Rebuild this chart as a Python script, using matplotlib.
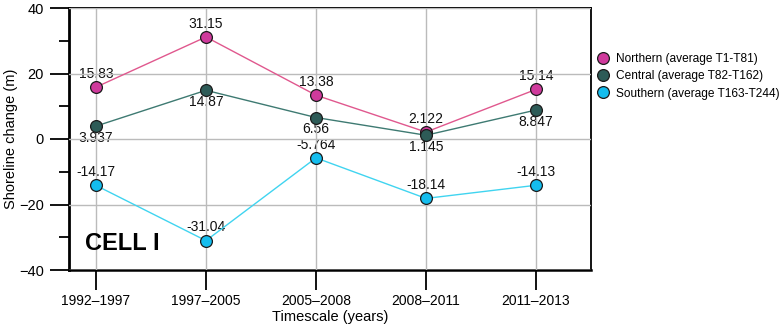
import numpy as np
import matplotlib
matplotlib.use('Agg')
import matplotlib.pyplot as plt
from matplotlib.lines import Line2D
from matplotlib.ticker import MultipleLocator

plt.rcParams['font.family'] = ['Liberation Sans', 'DejaVu Sans']

periods = ['1992\u20131997', '1997\u20132005', '2005\u20132008', '2008\u20132011', '2011\u20132013']
northern = [15.83, 31.15, 13.38, 2.122, 15.14]
central = [3.937, 14.87, 6.56, 1.145, 8.847]
southern = [-14.17, -31.04, -5.764, -18.14, -14.13]
northern_lbl = ['15.83', '31.15', '13.38', '2.122', '15.14']
central_lbl = ['3.937', '14.87', '6.56', '1.145', '8.847']
southern_lbl = ['-14.17', '-31.04', '-5.764', '-18.14', '-14.13']
names = ['Northern (average T1-T81)', 'Central (average T82-T162)',
         'Southern (average T163-T244)']

fig = plt.figure(figsize=(7.84, 3.27), dpi=100)
ax = fig.add_axes([69/784, 1-270/327, (591-69)/784, (270-8)/327])

x = np.arange(len(periods))
series = [
  (northern, northern_lbl, '#e0588e', '#cf3a9c', 9.5),
  (central, central_lbl, '#3e7a72', '#2d5b57', -8.5),
  (southern, southern_lbl, '#40d4f0', '#14bdee', 9.5),
]

for vals, lbls, lc, mc, off in series:
  ax.plot(x, vals, color=lc, lw=1, zorder=3)
  ax.plot(x, vals, ls='none', marker='o', ms=8.5, mfc=mc, mec='#1a1a1a', mew=0.9, zorder=4)
  for xi, v, s in zip(x, vals, lbls):
    ax.annotate(s, (xi, v), xytext=(0, off), textcoords='offset points',
                ha='center', va='center', fontsize=10, color='#111111', zorder=1)

ax.set_xlim(-0.245, 4.5)
ax.set_ylim(-40, 40)
ax.set_xticks(x)
ax.set_xticklabels(periods, fontsize=10)
ax.yaxis.set_major_locator(MultipleLocator(20))
ax.yaxis.set_minor_locator(MultipleLocator(10))
ax.tick_params(axis='y', which='major', length=14, width=1.3, labelsize=10.5, pad=4)
ax.tick_params(axis='y', which='minor', length=7, width=1.3)
ax.tick_params(axis='x', which='major', length=14.5, width=1.3, labelsize=10, pad=2.5)

ax.grid(True, which='major', color='#bbbbbb', lw=1, zorder=2)
ax.set_axisbelow(False)
for sp in ax.spines.values():
  sp.set_linewidth(1.3)
ax.spines['left'].set_linewidth(2)
ax.spines['bottom'].set_linewidth(1.8)

ax.set_xlabel('Timescale (years)', fontsize=10.5, labelpad=2)
ax.set_ylabel('Shoreline change (m)', fontsize=10.5)
ax.yaxis.set_label_coords(-0.097, 0.5)

ax.text(0.03, 0.1, 'CELL I', transform=ax.transAxes, fontsize=17, fontweight='bold',
        family=['Liberation Sans', 'DejaVu Sans'], va='center', ha='left')

handles = [Line2D([], [], ls='none', marker='o', ms=8.5, mfc=c, mec='#1a1a1a', mew=0.9)
           for c in ['#cf3a9c', '#2d5b57', '#14bdee']]
fig.legend(handles, names, loc='upper left', bbox_to_anchor=(592/784, 1-48/327),
           frameon=False, fontsize=8.6, handlelength=1, handletextpad=0.6,
           labelspacing=0.45, borderaxespad=0)

fig.savefig('out.png', dpi=100)
